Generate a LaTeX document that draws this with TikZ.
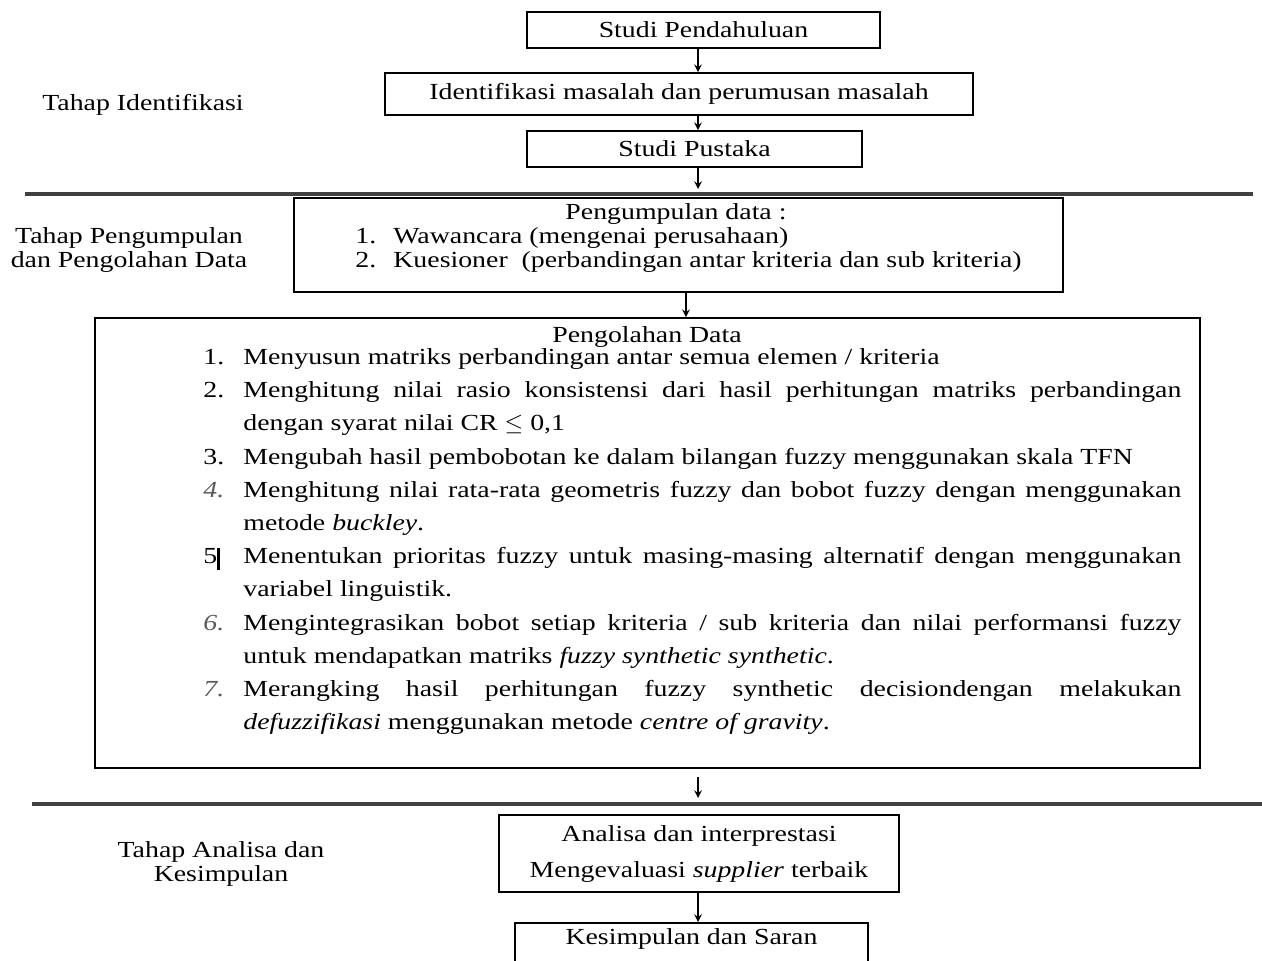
\documentclass[tikz,border=0pt]{standalone}
\usepackage{fontspec}
\setmainfont{Liberation Serif}[FakeStretch=1.21]
\usetikzlibrary{positioning}
\usetikzlibrary{calc}
\newcommand{\olahitem}[2]{\par\noindent\hangindent=20pt\hangafter=1\makebox[20pt][l]{#1}#2}
\newcommand{\grayno}[1]{\textcolor{black!65}{\textit{#1}}}

\begin{document}
\begin{tikzpicture}[x=0.5pt, y=-0.5pt,
    module/.style={draw, line width=0.9pt, inner sep=0pt, align=center, font=\fontsize{11.5}{14}\selectfont},
    phase/.style={align=center, inner sep=0pt, font=\fontsize{11.5}{12}\selectfont},
    divider/.style={line width=1.8pt, color=black!75},
    arrow/.style={-stealth, line width=0.7pt},
]
\useasboundingbox (0,0) rectangle (1262,961);
\clip (0,0) rectangle (1262,961);
\fill[white] (0,0) rectangle (1262,961);

\coordinate (axis) at (698,0);
\coordinate (axis2) at (686,0);

% tahap identifikasi
\node[module, minimum width=176.5pt, minimum height=18pt] (pendahuluan) at (703.5,30) {Studi Pendahuluan};
\node[module, minimum width=294pt, minimum height=21pt] (identifikasi) at (679,94) {Identifikasi masalah dan perumusan masalah};
\node[module, minimum width=167.5pt, minimum height=18pt] (pustaka) at (694.5,149) {Studi Pustaka};
\node[phase] (tahap1) at (143,105) {Tahap Identifikasi};

\coordinate (div1l) at (25,194);
\coordinate (div1r) at (1253,194);
\coordinate (div1tip) at (698,189);

\draw[arrow] (pendahuluan.south -| axis) -- (identifikasi.north -| axis);
\draw[arrow] (identifikasi.south -| axis) -- (pustaka.north -| axis);
\draw[arrow] (pustaka.south -| axis) -- (div1tip);
\draw[divider] (div1l) -- (div1r);

% tahap pengumpulan dan pengolahan data
\node[module, minimum width=384.5pt, minimum height=47pt] (pengumpulan) at (678.5,245) {};
\node[phase, anchor=base] (kumpulhead) at (676,220) {Pengumpulan data :};
\node[phase, anchor=base west] (kumpul1) at (355,244) {\makebox[19pt][l]{1.}Wawancara (mengenai perusahaan)};
\node[phase, anchor=base west] (kumpul2) at (355,268) {\makebox[19pt][l]{2.}Kuesioner\ \ (perbandingan antar kriteria dan sub kriteria)};
\node[phase] (tahap2) at (129,250) {Tahap Pengumpulan\\dan Pengolahan Data};

\node[module, minimum width=552.5pt, minimum height=225pt] (olah) at (647.5,543) {};
\node[phase, anchor=base] (olahhead) at (647,343) {Pengolahan Data};
\node[anchor=north west, inner sep=0pt, text width=489pt, align=justify, font=\fontsize{11.5}{16.6}\selectfont] (olahlist) at (203,331) {%
\olahitem{1.}{Menyusun matriks perbandingan antar semua elemen / kriteria}
\olahitem{2.}{Menghitung nilai rasio konsistensi dari hasil perhitungan matriks perbandingan\linebreak dengan syarat nilai CR $\leq$ 0,1}
\olahitem{3.}{Mengubah hasil pembobotan ke dalam bilangan fuzzy menggunakan skala TFN}
\olahitem{\grayno{4.}}{Menghitung nilai rata-rata geometris fuzzy dan bobot fuzzy dengan menggunakan\linebreak metode \textit{buckley}.}
\olahitem{5\rule[-3pt]{1.5pt}{11pt}}{Menentukan prioritas fuzzy untuk masing-masing alternatif dengan menggunakan\linebreak variabel linguistik.}
\olahitem{\grayno{6.}}{Mengintegrasikan bobot setiap kriteria / sub kriteria dan nilai performansi fuzzy\linebreak untuk mendapatkan matriks \textit{fuzzy synthetic synthetic}.}
\olahitem{\grayno{7.}}{Merangking hasil perhitungan fuzzy synthetic decisiondengan melakukan\linebreak \textit{defuzzifikasi} menggunakan metode \textit{centre of gravity}.}\par
};

\coordinate (div2l) at (32,804);
\coordinate (div2r) at (1262,804);
\coordinate (div2tip) at (698,798);

\draw[arrow] (pengumpulan.south -| axis2) -- (olah.north -| axis2);
\draw[arrow, shorten <=4pt] (olah.south -| axis) -- (div2tip);
\draw[divider] (div2l) -- (div2r);

% tahap analisa dan kesimpulan
\node[module, minimum width=200pt, minimum height=38.5pt, font=\fontsize{11.5}{18}\selectfont] (analisa) at (699,853.5) {Analisa dan interprestasi\\Mengevaluasi \textit{supplier} terbaik};
\node[module, anchor=north, minimum width=176.5pt, inner ysep=3pt, text height=8pt, text depth=22pt] (kesimpulan) at (691.5,922) {Kesimpulan dan Saran};
\node[phase] (tahap3) at (221,864) {Tahap Analisa dan\\Kesimpulan};

\draw[arrow] (analisa.south -| axis) -- (kesimpulan.north -| axis);

\end{tikzpicture}
\end{document}
